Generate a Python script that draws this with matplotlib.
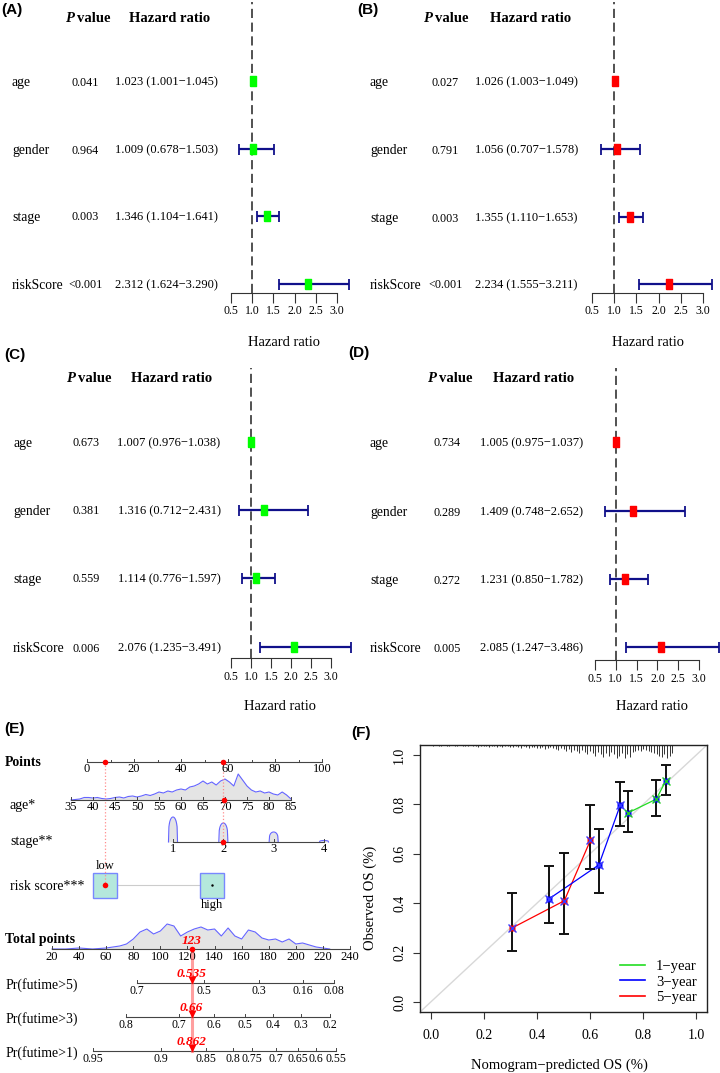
import numpy as np
import matplotlib
matplotlib.use('Agg')
import matplotlib.pyplot as plt
from matplotlib.patches import Rectangle
from matplotlib.lines import Line2D

W, H, DPI = 720, 1073, 100
SERIF = ['Liberation Serif', 'DejaVu Serif']
SANS = ['Liberation Sans', 'DejaVu Sans']
plt.rcParams['font.family'] = SERIF

# ------------------------------------------------------------------ data
variables = ['age', 'gender', 'stage', 'riskScore']
hr_ticks = [0.5, 1.0, 1.5, 2.0, 2.5, 3.0]

A_p = ['0.041', '0.964', '0.003', '<0.001']
A_hr = [1.023, 1.009, 1.346, 2.312]
A_lo = [1.001, 0.678, 1.104, 1.624]
A_hi = [1.045, 1.503, 1.641, 3.290]

B_p = ['0.027', '0.791', '0.003', '<0.001']
B_hr = [1.026, 1.056, 1.355, 2.234]
B_lo = [1.003, 0.707, 1.110, 1.555]
B_hi = [1.049, 1.578, 1.653, 3.211]

C_p = ['0.673', '0.381', '0.559', '0.006']
C_hr = [1.007, 1.316, 1.114, 2.076]
C_lo = [0.976, 0.712, 0.776, 1.235]
C_hi = [1.038, 2.431, 1.597, 3.491]

D_p = ['0.734', '0.289', '0.272', '0.005']
D_hr = [1.005, 1.409, 1.231, 2.085]
D_lo = [0.975, 0.748, 0.850, 1.247]
D_hi = [1.037, 2.652, 1.782, 3.486]

# nomogram
points_ticks = [0, 10, 20, 30, 40, 50, 60, 70, 80, 90, 100]
points_labels = ['0', '', '20', '', '40', '', '60', '', '80', '', '100']
age_ticks = [35, 40, 45, 50, 55, 60, 65, 70, 75, 80, 85]
stage_ticks = [1, 2, 3, 4]
risk_levels = ['low', 'high']
risk_points = [7.7, 53.0]
total_ticks = [20, 40, 60, 80, 100, 120, 140, 160, 180, 200, 220, 240]

age_grid = list(range(35, 86))
age_density = [0, 0.5, 1, 2.5, 2.5, 2, 2.5, 1.5, 1, 1.5, 2.5, 3, 2, 3.5, 4, 3,
               4, 5.5, 4.5, 6, 8, 7, 9, 8, 10, 11, 10, 13, 14, 16, 19, 16, 18,
               15, 19, 21, 18, 14, 26, 20, 14, 10, 8, 9, 7, 8, 6, 5, 8, 5, 1]
stage_density = [25, 19, 10, 1.5]
tp_grid = list(range(20, 230, 5))
tp_density = [0, 0, 0, 0.5, 1, 0.5, 0, 0.5, 1, 2, 3, 5, 10, 17, 20, 15, 18, 25,
              23, 13, 17, 20, 22, 19, 20, 13, 21, 13, 10, 19, 17, 11, 9, 10, 7,
              10, 5, 6, 4, 2, 1, 0]

pr_names = ['Pr(futime>5)', 'Pr(futime>3)', 'Pr(futime>1)']
pr5_labels = ['0.7', '0.5', '0.3', '0.16', '0.08']
pr5_total = [82.7, 132.2, 172.8, 205.3, 228.2]
pr3_labels = ['0.8', '0.7', '0.6', '0.5', '0.4', '0.3', '0.2']
pr3_total = [74.6, 113.8, 139.6, 162.5, 183.2, 203.8, 225.2]
pr1_labels = ['0.95', '0.9', '0.85', '0.8', '0.75', '0.7', '0.65', '0.6', '0.55']
pr1_total = [50.3, 100.5, 133.7, 153.6, 167.7, 185.4, 201.6, 214.9, 229.7]

sel_age = 70
sel_stage = 2
sel_risk = 'low'
sel_total = 123
sel_probs = ['0.535', '0.66', '0.862']

# calibration
cal_ticks = [0.0, 0.2, 0.4, 0.6, 0.8, 1.0]
cal_x_1yr = [0.742, 0.849, 0.885]
cal_y_1yr = [0.765, 0.821, 0.895]
cal_lo_1yr = [0.687, 0.751, 0.836]
cal_hi_1yr = [0.853, 0.899, 0.960]
cal_x_3yr = [0.446, 0.633, 0.714]
cal_y_3yr = [0.418, 0.555, 0.798]
cal_lo_3yr = [0.318, 0.442, 0.713]
cal_hi_3yr = [0.549, 0.700, 0.892]
cal_x_5yr = [0.305, 0.503, 0.601]
cal_y_5yr = [0.299, 0.410, 0.654]
cal_lo_5yr = [0.205, 0.276, 0.539]
cal_hi_5yr = [0.441, 0.605, 0.798]
rug_x = [round(0.01 * i, 2) for i in range(1, 92)]
rug_counts = [1, 0, 1, 1, 0, 1, 1, 0, 1, 1,
              0, 1, 1, 1, 0, 1, 1, 2, 1, 1,
              1, 2, 1, 1, 2, 1, 2, 1, 1, 2,
              2, 1, 2, 3, 1, 2, 3, 2, 2, 3,
              3, 2, 4, 3, 2, 3, 4, 5, 3, 4,
              6, 4, 7, 5, 6, 8, 5, 7, 9, 6,
              8, 10, 7, 9, 11, 8, 10, 7, 9, 12,
              10, 8, 12, 9, 11, 7, 6, 5, 6, 4,
              5, 6, 7, 8, 9, 10, 11, 9, 12, 10,
              8]

# ------------------------------------------------------------------ figure
fig = plt.figure(figsize=(W / DPI, H / DPI), dpi=DPI)
cv = fig.add_axes([0, 0, 1, 1], zorder=0)
cv.set_xlim(0, W)
cv.set_ylim(H, 0)
cv.axis('off')


def px_axes(x0, y0, x1, y1):
    a = fig.add_axes([x0 / W, 1 - y1 / H, (x1 - x0) / W, (y1 - y0) / H], zorder=2)
    a.patch.set_visible(False)
    return a


def tag(x, y, s):
    cv.text(x, y, s, family=SANS, weight='bold', fontsize=11, ha='left', va='center')


rect_marker = [(-3, -4.5), (3, -4.5), (3, 4.5), (-3, 4.5), (-3, -4.5)]


def forest(L, p, hr, lo, hi, color):
    tag(L['tag'][0], L['tag'][1], L['tag_text'])
    hy = L['head_y']
    cv.text(L['P_x'], hy, 'P', style='italic', weight='bold', fontsize=10.5, ha='left', va='center')
    cv.text(L['P_x'] + 12, hy, 'value', weight='bold', fontsize=10.5, ha='left', va='center')
    cv.text(L['hh_x'], hy, 'Hazard ratio', weight='bold', fontsize=10.5, ha='center', va='center')
    for i, var in enumerate(variables):
        y = L['rows'][i] + 1.5
        cv.text(L['lab_x'], y, var, ha='left', va='center', fontsize=9.8)
        cv.text(L['p_x'], y, p[i], ha='center', va='center', fontsize=8.7)
        cv.text(L['hr_x'], y, f'{hr[i]:.3f} ({lo[i]:.3f}\u2212{hi[i]:.3f})',
                ha='center', va='center', fontsize=9)
    x0, x1 = L['ax_x']
    ax = px_axes(x0, L['top'], x1, L['axis_y'])
    sc = (L['px30'] - L['px05']) / (hr_ticks[-1] - hr_ticks[0])
    ax.set_xlim(hr_ticks[0] - (L['px05'] - x0) / sc, hr_ticks[0] + (x1 - L['px05']) / sc)
    ax.set_ylim(L['axis_y'], L['top'])
    for s in ['top', 'right', 'left']:
        ax.spines[s].set_visible(False)
    ax.spines['bottom'].set_bounds(hr_ticks[0], hr_ticks[-1])
    ax.spines['bottom'].set_color('#333333')
    ax.set_yticks([])
    ax.set_xticks(hr_ticks)
    ax.set_xticklabels([f'{t:.1f}' for t in hr_ticks], fontsize=8.5)
    ax.tick_params(axis='x', direction='out', length=7, width=0.8, pad=2, color='#333333')
    ax.axvline(1.0, ls=(0, (6, 3)), color='#222222', lw=1.1)
    rows = L['rows']
    ax.hlines(rows, lo, hi, color='#10108a', lw=1.6, clip_on=False, zorder=3)
    for y, a, b in zip(rows, lo, hi):
        ax.vlines([a, b], y - 5.5, y + 5.5, color='#10108a', lw=1.3, clip_on=False, zorder=3)
    ax.plot(hr, rows, ls='none', marker=rect_marker, ms=6.5, mfc=color, mec=color,
            clip_on=False, zorder=5)
    cv.text(L['xlab'][0], L['xlab'][1], 'Hazard ratio', ha='center', va='center', fontsize=10.5)


layA = dict(tag=(1, 10), tag_text='(A)', head_y=18, P_x=65, hh_x=170, lab_x=12, p_x=85.5,
            hr_x=166.5, rows=[81, 149, 216, 284], ax_x=(200, 360), top=2, axis_y=293,
            px05=231, px30=337, xlab=(284, 343))
layB = dict(tag=(357, 10), tag_text='(B)', head_y=18, P_x=423, hh_x=530.5, lab_x=370, p_x=445.5,
            hr_x=526.5, rows=[81, 149, 217, 284], ax_x=(560, 720), top=2, axis_y=293,
            px05=592, px30=703, xlab=(648, 343))
layC = dict(tag=(4, 355), tag_text='(C)', head_y=378, P_x=66, hh_x=171.5, lab_x=13, p_x=86,
            hr_x=169, rows=[442, 510, 578, 647], ax_x=(200, 360), top=368, axis_y=658,
            px05=231, px30=331, xlab=(280, 707))
layD = dict(tag=(348, 353), tag_text='(D)', head_y=378, P_x=427, hh_x=534, lab_x=370, p_x=447,
            hr_x=532, rows=[442, 511, 579, 647], ax_x=(560, 720), top=368, axis_y=660,
            px05=595, px30=699, xlab=(652, 707))

forest(layA, A_p, A_hr, A_lo, A_hi, '#00ff00')
forest(layB, B_p, B_hr, B_lo, B_hi, '#ff0000')
forest(layC, C_p, C_hr, C_lo, C_hi, '#00ff00')
forest(layD, D_p, D_hr, D_lo, D_hi, '#ff0000')

# ------------------------------------------------------------------ nomogram (E)
tag(4, 729, '(E)')
points_scale = (0, 87, 100, 322)
age_scale = (35, 71, 85, 291)
stage_scale = (1, 173, 4, 324)
total_scale = (20, 52, 240, 350)
Y_POINTS, Y_AGE, Y_STAGE, Y_RISK, Y_TOTAL = 762, 800, 842, 885, 949
Y_PR = [983, 1017, 1051]
AX_COL = '#444444'
DENS_FILL = '#e4e4e4'
DENS_LINE = '#6464ff'


def lin(v, s):
    v0, p0, v1, p1 = s
    return p0 + (np.asarray(v, float) - v0) * (p1 - p0) / (v1 - v0)


def nomo_axis(y, pos, labels, fs=9):
    pos = np.asarray(pos, float)
    cv.plot([pos.min(), pos.max()], [y, y], color=AX_COL, lw=0.8, zorder=3)
    for p_, l_ in zip(pos, labels):
        cv.plot([p_, p_], [y, y - (3 if l_ else 2)], color=AX_COL, lw=0.7, zorder=3)
        if l_:
            cv.text(p_, y + 1.5, l_, ha='center', va='top', fontsize=fs, zorder=3)


def row_label(y, s, bold=False, x=10):
    cv.text(x, y, s, ha='left', va='center', fontsize=10, weight='bold' if bold else 'normal')


# densities
ax_age = lin(age_grid, age_scale)
yd = Y_AGE - np.asarray(age_density)
cv.fill_between(ax_age, yd, Y_AGE, color=DENS_FILL, lw=0, zorder=1)
cv.plot(ax_age, yd, color=DENS_LINE, lw=0.8, zorder=2)

u = np.linspace(-1, 1, 21)
for s_, d_ in zip(stage_ticks, stage_density):
    xs = lin(s_ + 0.09 * u, stage_scale)
    ys = Y_STAGE - d_ * np.sqrt(np.clip(1 - u ** 2, 0, 1)) ** 0.6
    cv.fill_between(xs, ys, Y_STAGE, color=DENS_FILL, lw=0, zorder=1)
    cv.plot(xs, ys, color=DENS_LINE, lw=0.8, zorder=2)

ax_tp = lin(tp_grid, total_scale)
yt = Y_TOTAL - np.asarray(tp_density)
cv.fill_between(ax_tp, yt, Y_TOTAL, color=DENS_FILL, lw=0, zorder=1)
cv.plot(ax_tp, yt, color=DENS_LINE, lw=0.8, zorder=2)

# axes
row_label(Y_POINTS + 1, 'Points', bold=True, x=5)
nomo_axis(Y_POINTS, lin(points_ticks, points_scale), points_labels)
row_label(Y_AGE + 6, 'age*')
nomo_axis(Y_AGE, lin(age_ticks, age_scale), [str(a) for a in age_ticks])
row_label(Y_STAGE, 'stage**')
nomo_axis(Y_STAGE, lin(stage_ticks, stage_scale), [str(s) for s in stage_ticks])

# risk score boxes
risk_px = lin(risk_points, points_scale)
row_label(Y_RISK + 1, 'risk score***')
cv.plot([risk_px[0] + 12, risk_px[1] - 12], [Y_RISK, Y_RISK], color='#cccccc', lw=0.8, zorder=1)
for rp in risk_px:
    cv.add_patch(Rectangle((rp - 12, Y_RISK - 12.5), 24, 25, facecolor='#b4e8dc',
                           edgecolor='#7888ff', lw=1.0, zorder=2))
cv.text(risk_px[0], Y_RISK - 19, risk_levels[0], ha='center', va='center', fontsize=9)
cv.text(risk_px[1], Y_RISK + 20, risk_levels[1], ha='center', va='center', fontsize=9)
cv.plot(risk_px[1], Y_RISK, marker='.', ms=1.5, color='k', zorder=3)

row_label(Y_TOTAL - 9, 'Total points', bold=True, x=5)
nomo_axis(Y_TOTAL, lin(total_ticks, total_scale), [str(t) for t in total_ticks])

for name, y, labs, tots in zip(pr_names, Y_PR, [pr5_labels, pr3_labels, pr1_labels],
                               [pr5_total, pr3_total, pr1_total]):
    row_label(y + 2, name, x=6)
    nomo_axis(y, lin(tots, total_scale), labs, fs=8.5)

# selected patient
x_age = float(lin(sel_age, age_scale)) - 1.5
x_stage = float(lin(sel_stage, stage_scale))
x_risk = float(risk_px[risk_levels.index(sel_risk)])
x_tot = float(lin(sel_total, total_scale))
pink = '#ff8c8c'
cv.plot([x_risk, x_risk], [Y_POINTS, Y_RISK], ls=':', color=pink, lw=0.9, zorder=2)
cv.plot([x_stage, x_stage], [Y_POINTS, Y_STAGE], ls=':', color=pink, lw=0.9, zorder=2)
for xx, yy in [(x_risk, Y_POINTS), (x_stage, Y_POINTS), (x_age, Y_AGE), (x_stage, Y_STAGE),
               (x_risk, Y_RISK), (x_tot, Y_TOTAL)]:
    cv.plot(xx, yy, marker='o', ms=4, color='#ff0000', mec='none', zorder=5)
cv.plot([x_tot, x_tot], [Y_TOTAL, Y_PR[-1]], color='#ff5050', alpha=0.55, lw=2.2, zorder=4)
cv.text(x_tot, Y_TOTAL - 8, str(sel_total), color='#ff0000', weight='bold', style='italic',
        ha='center', va='center', fontsize=9.5, zorder=6)
for y, s in zip(Y_PR, sel_probs):
    cv.plot(x_tot, y - 3.5, marker='v', ms=6, color='#ff0000', mec='none', zorder=5)
    cv.text(x_tot, y - 9, s, color='#ff0000', weight='bold', style='italic',
            ha='center', va='center', fontsize=9.5, zorder=6)

# ------------------------------------------------------------------ calibration (F)
tag(351, 733, '(F)')
axF = px_axes(420, 745, 707, 1012)
axF.set_xlim(-0.04, 1.04)
axF.set_ylim(-0.04, 1.04)
axF.plot([-0.04, 1.04], [-0.04, 1.04], color='#d8d8d8', lw=1, zorder=1)
px_unit = 1.08 / 267
axF.vlines(rug_x, 1.04 - np.asarray(rug_counts) * px_unit * 1.05, 1.04, color='#333333',
           lw=0.7, zorder=2)

curves = [
    (cal_x_5yr, cal_y_5yr, cal_lo_5yr, cal_hi_5yr, '#ff0000', '#ff0000', '#3a3aff'),
    (cal_x_3yr, cal_y_3yr, cal_lo_3yr, cal_hi_3yr, '#0000ff', '#0000ff', '#3a3aff'),
    (cal_x_1yr, cal_y_1yr, cal_lo_1yr, cal_hi_1yr, '#22dd22', '#0000ff', '#22cc22'),
]
for xs, ys, lo, hi, lc, sqc, xc in curves:
    axF.plot(xs, ys, color=lc, lw=0.9, zorder=3)
    axF.vlines(xs, lo, hi, color='#111111', lw=1.4, zorder=4)
    axF.plot(xs, lo, ls='none', marker='_', ms=7, mew=1.4, color='#111111', zorder=4)
    axF.plot(xs, hi, ls='none', marker='_', ms=7, mew=1.4, color='#111111', zorder=4)
    axF.plot(xs, ys, ls='none', marker='s', ms=5, color=sqc, mec='none', zorder=5)
    axF.plot(xs, ys, ls='none', marker='x', ms=5.5, mew=1.0, color=xc, zorder=6)

axF.set_xticks(cal_ticks)
axF.set_yticks(cal_ticks)
axF.set_xticklabels([f'{t:.1f}' for t in cal_ticks], fontsize=10)
axF.set_yticklabels([f'{t:.1f}' for t in cal_ticks], fontsize=10, rotation=90, va='center')
axF.tick_params(axis='x', direction='out', length=5, width=0.8, pad=7, color='#333333')
axF.tick_params(axis='y', direction='out', length=5, width=0.8, pad=5, color='#333333')
for s in axF.spines.values():
    s.set_linewidth(1.0)
    s.set_color('#222222')

handles = [Line2D([], [], color='#22dd22', lw=1.2), Line2D([], [], color='#0000ff', lw=1.2),
           Line2D([], [], color='#ff0000', lw=1.2)]
axF.legend(handles, ['1\u2212year', '3\u2212year', '5\u2212year'], loc='lower right',
           bbox_to_anchor=(0.965, 0.03), frameon=False, fontsize=10.5, handlelength=1.7,
           handletextpad=0.8, labelspacing=0.15, borderpad=0, borderaxespad=0)

cv.text(559, 1065, 'Nomogram\u2212predicted OS (%)', ha='center', va='center', fontsize=10.5)
cv.text(370, 898, 'Observed OS (%)', ha='center', va='center', rotation=90, fontsize=10.5)

fig.savefig('out.png', dpi=DPI)
